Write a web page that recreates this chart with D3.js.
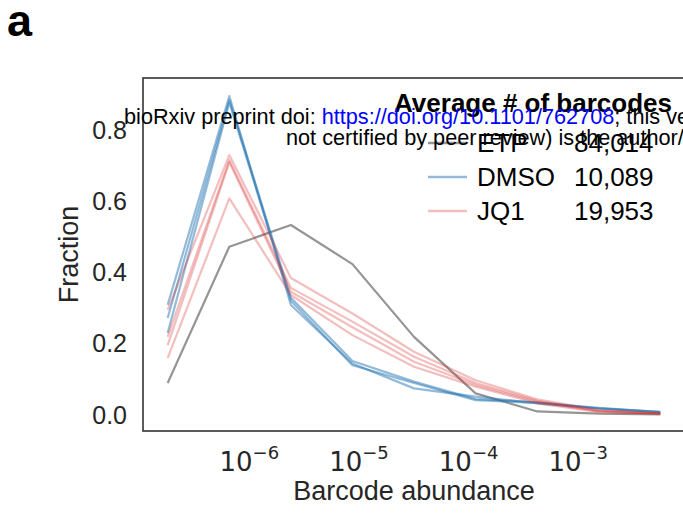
<!DOCTYPE html>
<html>
<head>
<meta charset="utf-8">
<title>barcode abundance</title>
<script src="https://cdn.jsdelivr.net/npm/d3@7/dist/d3.min.js"></script>
<style>
  body { margin: 0; background: #fff; }
  svg { display: block; }
</style>
</head>
<body>
<div id="chart"></div>
<script>
// bin centres (barcode abundance, log axis)
var abundance = [1.82e-7, 6.64e-7, 2.42e-6, 8.81e-6, 3.21e-5, 1.17e-4, 4.27e-4, 1.55e-3, 5.66e-3];

var etp = [0.090, 0.474, 0.535, 0.425, 0.220, 0.061, 0.010, 0.004, 0.002];

var dmso = [
    [0.310, 0.898, 0.310, 0.145, 0.075, 0.052, 0.033, 0.018, 0.008],
    [0.273, 0.887, 0.330, 0.152, 0.094, 0.045, 0.036, 0.019, 0.009],
    [0.231, 0.880, 0.322, 0.140, 0.090, 0.042, 0.034, 0.020, 0.008]
];

var jq1 = [
    [0.296, 0.732, 0.386, 0.286, 0.178, 0.098, 0.044, 0.014, 0.005],
    [0.220, 0.718, 0.358, 0.263, 0.164, 0.090, 0.040, 0.012, 0.004],
    [0.197, 0.712, 0.347, 0.247, 0.150, 0.085, 0.037, 0.010, 0.004],
    [0.160, 0.610, 0.338, 0.225, 0.136, 0.080, 0.033, 0.009, 0.003]
];

var legendNames = ["ETP", "DMSO", "JQ1"];
var legendCounts = ["84,014", "10,089", "19,953"];
var yTicks = [0, 0.2, 0.4, 0.6, 0.8];
var xTicks = [1e-6, 1e-5, 1e-4, 1e-3];

var width = 683, height = 513;
var box = { left: 143, top: 78, right: 685, bottom: 431 };

var styles = {
    ETP:  { color: "#7a7a7a", opacity: 0.8 },
    DMSO: { color: "#2878b4", opacity: 0.5 },
    JQ1:  { color: "#d62728", opacity: 0.3 }
};

var svg = d3.select("#chart").append("svg")
    .attr("width", width)
    .attr("height", height);

svg.append("rect").attr("width", width).attr("height", height).attr("fill", "#fff");

var x = d3.scaleLog()
    .domain([Math.pow(10, -6.965), Math.pow(10, -2.022)])
    .range([box.left, box.right]);
var y = d3.scaleLinear()
    .domain([-0.045, 0.949])
    .range([box.bottom, box.top]);

svg.append("clipPath").attr("id", "plotclip")
    .append("rect")
    .attr("x", box.left).attr("y", box.top)
    .attr("width", box.right - box.left).attr("height", box.bottom - box.top);

var line = d3.line()
    .x(function(d, i){ return x(abundance[i]); })
    .y(function(d){ return y(d); });

var series = [];
series.push({ group: "ETP", values: etp });
dmso.forEach(function(v){ series.push({ group: "DMSO", values: v }); });
jq1.forEach(function(v){ series.push({ group: "JQ1", values: v }); });

svg.append("g").attr("clip-path", "url(#plotclip)")
    .selectAll("path")
    .data(series)
    .enter()
    .append("path")
    .attr("d", function(d){ return line(d.values); })
    .attr("fill", "none")
    .attr("stroke", function(d){ return styles[d.group].color; })
    .attr("stroke-opacity", function(d){ return styles[d.group].opacity; })
    .attr("stroke-width", 2.2)
    .attr("stroke-linejoin", "round");

// frame
svg.append("rect")
    .attr("x", box.left).attr("y", box.top)
    .attr("width", box.right - box.left).attr("height", box.bottom - box.top)
    .attr("fill", "none")
    .attr("stroke", "#333")
    .attr("stroke-width", 1.6);

// y axis
var yAxis = svg.append("g")
    .attr("transform", "translate(" + box.left + ",0)")
    .call(d3.axisLeft(y).tickValues(yTicks).tickSize(0).tickPadding(16).tickFormat(d3.format(".1f")));
yAxis.select(".domain").remove();
yAxis.selectAll("text")
    .attr("fill", "#262626")
    .style("font-family", "'Liberation Sans', Arial, sans-serif")
    .style("font-size", "25px");

// x axis, 10^n labels
var xAxis = svg.append("g")
    .attr("transform", "translate(0," + box.bottom + ")")
    .call(d3.axisBottom(x).tickValues(xTicks).tickSize(0).tickFormat(""));
xAxis.select(".domain").remove();
xAxis.selectAll(".tick text").each(function(d){
    var t = d3.select(this)
        .attr("y", 40)
        .attr("dy", null)
        .attr("fill", "#262626")
        .style("font-family", "'DejaVu Sans', sans-serif")
        .style("font-size", "26px");
    t.append("tspan").text("10");
    t.append("tspan")
        .attr("dy", -12)
        .style("font-size", "18px")
        .text("\u2212" + Math.round(-Math.log10(d)));
});

// axis titles
svg.append("text")
    .attr("x", (box.left + box.right) / 2)
    .attr("y", 500)
    .attr("text-anchor", "middle")
    .attr("fill", "#262626")
    .style("font-family", "'Liberation Sans', Arial, sans-serif")
    .style("font-size", "27px")
    .text("Barcode abundance");

svg.append("text")
    .attr("transform", "translate(78," + (box.top + box.bottom) / 2 + ") rotate(-90)")
    .attr("text-anchor", "middle")
    .attr("fill", "#262626")
    .style("font-family", "'Liberation Sans', Arial, sans-serif")
    .style("font-size", "27px")
    .text("Fraction");

// legend
var legend = svg.append("g")
    .style("font-family", "'Liberation Sans', Arial, sans-serif");
legend.append("text")
    .attr("x", 533).attr("y", 112)
    .attr("text-anchor", "middle")
    .style("font-weight", "bold")
    .style("font-size", "26px")
    .text("Average # of barcodes");

var rows = legend.selectAll("g.row")
    .data(legendNames)
    .enter()
    .append("g")
    .attr("class", "row")
    .attr("transform", function(d, i){ return "translate(0," + (152 + i * 34) + ")"; });
rows.append("line")
    .attr("x1", 428).attr("x2", 467)
    .attr("y1", -9).attr("y2", -9)
    .attr("stroke", function(d){ return styles[d].color; })
    .attr("stroke-opacity", function(d){ return styles[d].opacity; })
    .attr("stroke-width", 2.6);
rows.append("text")
    .attr("x", 477)
    .style("font-size", "26px")
    .text(function(d){ return d; });
rows.append("text")
    .attr("x", 574)
    .style("font-size", "26px")
    .text(function(d, i){ return legendCounts[i]; });

// panel letter
svg.append("text")
    .attr("x", 7).attr("y", 36)
    .style("font-family", "'Liberation Sans', Arial, sans-serif")
    .style("font-weight", "bold")
    .style("font-size", "45px")
    .text("a");

// preprint stamp on top
var stamp = svg.append("g")
    .style("font-family", "'Liberation Sans', Arial, sans-serif")
    .style("font-size", "21.7px");
var l1 = stamp.append("text").attr("x", 124).attr("y", 124);
l1.append("tspan").text("bioRxiv preprint doi: ");
l1.append("tspan").attr("fill", "#0000ff").text("https://doi.org/10.1101/762708");
l1.append("tspan").text("; this version posted September 10, 2019.");
stamp.append("text").attr("x", 286).attr("y", 145)
    .text("not certified by peer review) is the author/funder.");
</script>
</body>
</html>
